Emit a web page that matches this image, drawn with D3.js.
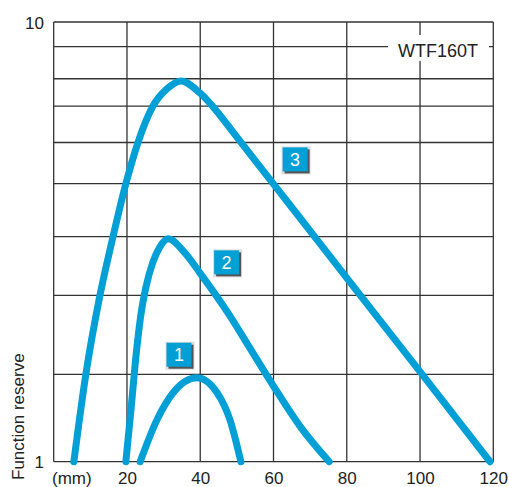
<!DOCTYPE html>
<html>
<head>
<meta charset="utf-8">
<script src="https://cdn.jsdelivr.net/npm/d3@7"></script>
<style>
  html, body { margin: 0; padding: 0; background: #fff; }
  svg { display: block; }
  text { font-family: "Liberation Sans", Arial, sans-serif; fill: #222; }
</style>
</head>
<body>
<svg id="chart" width="509" height="487"></svg>
<script>
// ---- data ----
const xTicks = [20, 40, 60, 80, 100, 120];
const xGrid = [0, 20, 40, 60, 80, 100, 120];
const yGrid = [1, 1.58, 2.39, 3.25, 4.29, 5.32, 6.44, 7.43, 8.79, 10];
const yTickLabels = [1, 10];
const xUnit = "(mm)";
const yTitle = "Function reserve";
const modelLabel = "WTF160T";

const curve1 = [[23.6,1.0],[28.2,1.246],[32.6,1.435],[39.1,1.552],[44.6,1.435],[48.1,1.246],[51.1,1.0]];
const curve2 = [[19.7,1.0],[21.1,1.313],[22.5,1.751],[23.8,2.159],[25.2,2.499],[27.1,2.848],[29.0,3.08],[31.2,3.213],[35.8,2.985],[39.9,2.689],[48.1,2.147],[53.6,1.81],[59.9,1.49],[67.2,1.205],[75.2,1.0]];
const curve3 = [[5.5,1.0],[8.8,1.585],[12.6,2.384],[16.2,3.251],[19.7,4.29],[23.0,5.32],[27.1,6.44],[30.9,7.043],[34.75,7.344],[39.9,6.897],[44.9,6.212],[48.9,5.623],[60.4,4.239],[71.9,3.196],[83.6,2.396],[100.0,1.602],[119.1,1.0]];
const curves = [curve1, curve2, curve3];
const badgeLabels = ["1", "2", "3"];
const badgePos = [[34.2, 1.751], [47.2, 2.84], [65.9, 4.87]];

// ---- layout ----
const svg = d3.select("#chart");
const x = d3.scaleLinear().domain([0, 120]).range([53.7, 493.3]);
const y = d3.scaleLog().domain([1, 10]).range([461.7, 22]);
const blue = "#009fd6";

// grid
const grid = svg.append("g").attr("stroke", "#333").attr("stroke-width", 1.3);
grid.selectAll(".h").data(yGrid).enter().append("line")
  .attr("x1", x(0)).attr("x2", x(120))
  .attr("y1", d => y(d)).attr("y2", d => y(d));
grid.selectAll(".v").data(xGrid).enter().append("line")
  .attr("x1", d => x(d)).attr("x2", d => x(d))
  .attr("y1", y(10)).attr("y2", y(1));

// model label with white knock-out
svg.append("rect").attr("x", 388).attr("y", 35).attr("width", 101).attr("height", 26).attr("fill", "#fff");
svg.append("text").attr("x", 398).attr("y", 56.5).attr("font-size", 18).text(modelLabel);

// axes
const xAxis = d3.axisBottom(x).tickValues(xTicks).tickSize(0).tickPadding(0).tickFormat(d3.format("d"));
const gx = svg.append("g").attr("transform", `translate(0,${y(1)})`).call(xAxis);
gx.select(".domain").remove();
gx.selectAll("text").attr("font-size", 17).attr("fill", "#222")
  .attr("font-family", "Liberation Sans, Arial, sans-serif")
  .attr("y", 22.5).attr("dy", 0);

const yAxis = d3.axisLeft(y).tickValues(yTickLabels).tickSize(0).tickPadding(0).tickFormat(d3.format("d"));
const gy = svg.append("g").attr("transform", `translate(44,0)`).call(yAxis);
gy.select(".domain").remove();
gy.selectAll("text").attr("font-size", 17).attr("fill", "#222")
  .attr("font-family", "Liberation Sans, Arial, sans-serif")
  .attr("dy", "0.36em");

svg.append("text").attr("x", 52).attr("y", 484.2).attr("font-size", 17).text(xUnit);
svg.append("text").attr("transform", "translate(23.5,480) rotate(-90)")
  .attr("font-size", 17).text(yTitle);

// curves
const line = d3.line().x(d => x(d[0])).y(d => y(d[1])).curve(d3.curveMonotoneX);
svg.selectAll(".curve").data(curves).enter().append("path")
  .attr("d", line).attr("fill", "none").attr("stroke", blue)
  .attr("stroke-width", 7).attr("stroke-linecap", "round").attr("stroke-linejoin", "round");

// badges
const bw = 25, bh = 24;
const badges = svg.selectAll(".badge").data(badgeLabels).enter().append("g")
  .attr("transform", (d, i) => `translate(${x(badgePos[i][0])},${y(badgePos[i][1])})`);
badges.append("rect").attr("x", -bw/2 - 1).attr("y", -bh/2 - 1).attr("width", bw + 4).attr("height", bh + 4).attr("fill", "#ddd");
badges.append("rect").attr("x", -bw/2 + 2).attr("y", -bh/2 + 2).attr("width", bw).attr("height", bh).attr("fill", "#555");
badges.append("rect").attr("x", -bw/2).attr("y", -bh/2).attr("width", bw).attr("height", bh).attr("fill", blue);
badges.append("text").attr("text-anchor", "middle").attr("y", 6.5)
  .attr("font-size", 18).style("fill", "#fff").text(d => d);
</script>
</body>
</html>
